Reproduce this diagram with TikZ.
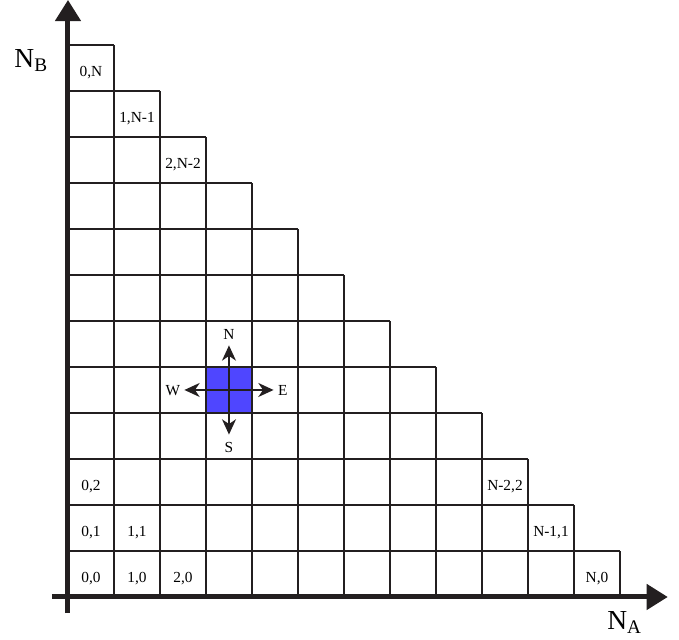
\documentclass[tikz,border=0pt]{standalone}
\usepackage{fontspec}
\setmainfont{Liberation Serif}
\usepackage{xcolor}
\definecolor{cellBlue}{HTML}{4F46FF}
\definecolor{lineDark}{HTML}{231F20}
\usetikzlibrary{arrows.meta}

\begin{document}
\begin{tikzpicture}[
    gridline/.style={lineDark, line width=1.6pt},
    axisline/.style={lineDark, line width=3.1pt, -{Triangle[length=4.6mm, width=5.4mm]}},
    moveline/.style={lineDark, line width=1.6pt, -{Stealth[length=3.3mm, width=3.0mm, inset=1mm]}},
    celllabel/.style={font=\fontsize{9.5}{11}\selectfont, inner sep=0pt, anchor=base},
    dirlabel/.style={font=\fontsize{9.5}{11}\selectfont, inner sep=0pt, text depth=0pt},
    axislabel/.style={font=\fontsize{17}{20}\selectfont, inner sep=0pt}
  ]
  \useasboundingbox (-1.478,-0.935) rectangle (13.283,12.978);
  % highlighted state
  \node[fill=cellBlue, draw=none, minimum size=1cm, inner sep=0pt] (P) at (3.5,4.5) {};
  % staircase grid
  \draw[gridline] (0,1) -- (12,1);
  \draw[gridline] (0,2) -- (11,2);
  \draw[gridline] (0,3) -- (10,3);
  \draw[gridline] (0,4) -- (9,4);
  \draw[gridline] (0,5) -- (8,5);
  \draw[gridline] (0,6) -- (7,6);
  \draw[gridline] (0,7) -- (6,7);
  \draw[gridline] (0,8) -- (5,8);
  \draw[gridline] (0,9) -- (4,9);
  \draw[gridline] (0,10) -- (3,10);
  \draw[gridline] (0,11) -- (2,11);
  \draw[gridline] (0,12) -- (1,12);
  \draw[gridline] (1,0) -- (1,12);
  \draw[gridline] (2,0) -- (2,11);
  \draw[gridline] (3,0) -- (3,10);
  \draw[gridline] (4,0) -- (4,9);
  \draw[gridline] (5,0) -- (5,8);
  \draw[gridline] (6,0) -- (6,7);
  \draw[gridline] (7,0) -- (7,6);
  \draw[gridline] (8,0) -- (8,5);
  \draw[gridline] (9,0) -- (9,4);
  \draw[gridline] (10,0) -- (10,3);
  \draw[gridline] (11,0) -- (11,2);
  \draw[gridline] (12,0) -- (12,1);
  % axes
  \coordinate (O1) at (0,-0.35);
  \coordinate (O2) at (-0.35,0);
  \coordinate (YT) at (0,12.98);
  \coordinate (XT) at (13.04,0);
  \draw[axisline] (O1) -- (YT);
  \draw[axisline] (O2) -- (XT);
  \node[axislabel] (NB) at (-0.80,11.67) {N\textsubscript{B}};
  \node[axislabel] (NA) at (12.10,-0.55) {N\textsubscript{A}};
  % cell labels
  \node[celllabel] (L0N) at (0.5,11.32) {0,N};
  \node[celllabel] (L1N) at (1.5,10.32) {1,N-1};
  \node[celllabel] (L2N) at (2.5,9.32) {2,N-2};
  \node[celllabel] (L02) at (0.5,2.32) {0,2};
  \node[celllabel] (L01) at (0.5,1.32) {0,1};
  \node[celllabel] (L11) at (1.5,1.32) {1,1};
  \node[celllabel] (L00) at (0.5,0.32) {0,0};
  \node[celllabel] (L10) at (1.5,0.32) {1,0};
  \node[celllabel] (L20) at (2.5,0.32) {2,0};
  \node[celllabel] (LN2) at (9.5,2.32) {N-2,2};
  \node[celllabel] (LN1) at (10.5,1.32) {N-1,1};
  \node[celllabel] (LN0) at (11.5,0.32) {N,0};
  % moves out of the highlighted state
  \coordinate (PN) at (3.5,5.47);
  \coordinate (PS) at (3.5,3.53);
  \coordinate (PE) at (4.47,4.5);
  \coordinate (PW) at (2.53,4.5);
  \draw[moveline] (P.center) -- (PN);
  \draw[moveline] (P.center) -- (PS);
  \draw[moveline] (P.center) -- (PE);
  \draw[moveline] (P.center) -- (PW);
  \node[dirlabel] (DN) at (3.5,5.70) {N};
  \node[dirlabel] (DS) at (3.5,3.26) {S};
  \node[dirlabel] (DE) at (4.67,4.5) {E};
  \node[dirlabel] (DW) at (2.28,4.5) {W};
\end{tikzpicture}
\end{document}
